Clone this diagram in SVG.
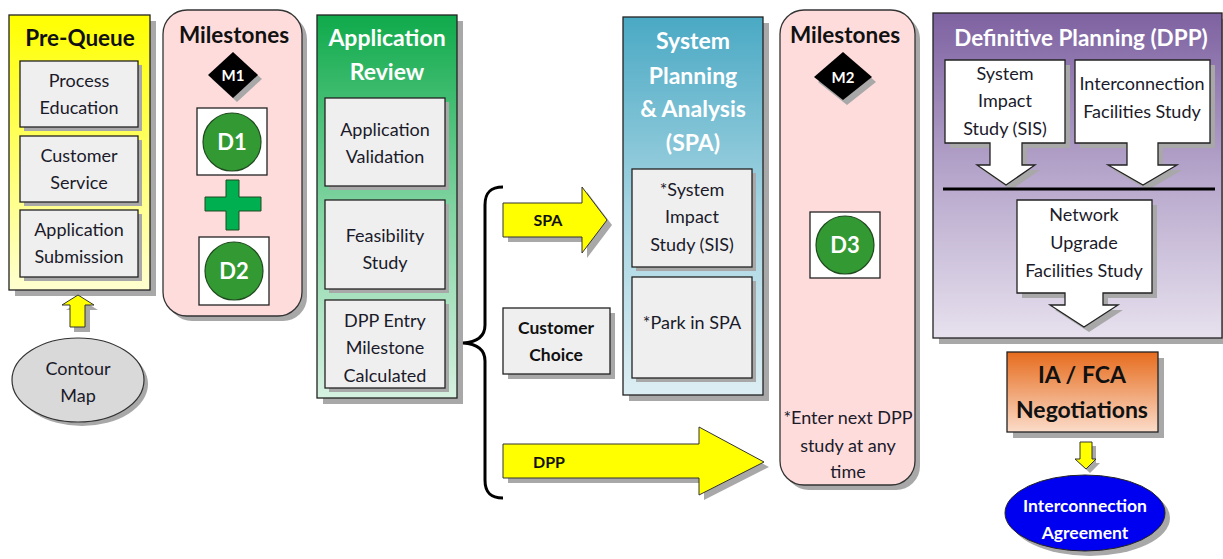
<svg xmlns="http://www.w3.org/2000/svg" width="1223" height="559" viewBox="0 0 1223 559">
  <defs>
    <linearGradient id="gYellow" x1="0" y1="0" x2="0" y2="1">
      <stop offset="0" stop-color="#FFFF00"/>
      <stop offset="1" stop-color="#FFFFD0"/>
    </linearGradient>
    <linearGradient id="gGreen" x1="0" y1="0" x2="0" y2="1">
      <stop offset="0" stop-color="#0FAA4B"/>
      <stop offset="0.5" stop-color="#7FD3A0"/>
      <stop offset="1" stop-color="#D6F1E0"/>
    </linearGradient>
    <linearGradient id="gBlue" x1="0" y1="0" x2="0" y2="1">
      <stop offset="0" stop-color="#4AA9C4"/>
      <stop offset="0.5" stop-color="#A3D3E1"/>
      <stop offset="1" stop-color="#DCEEF3"/>
    </linearGradient>
    <linearGradient id="gPurple" x1="0" y1="0" x2="0" y2="1">
      <stop offset="0" stop-color="#7E62A1"/>
      <stop offset="0.5" stop-color="#B6A6CB"/>
      <stop offset="1" stop-color="#E7E1EE"/>
    </linearGradient>
    <linearGradient id="gOrange" x1="0" y1="0" x2="0" y2="1">
      <stop offset="0" stop-color="#E66C1E"/>
      <stop offset="1" stop-color="#FBDCC9"/>
    </linearGradient>
    <style>
      .frame { stroke: #222; stroke-width: 1.3; }
      .shadow { fill: #A8A8A8; }
      .box { fill: #EFEFEF; stroke: #222; stroke-width: 1.3; }
      .wbox { fill: #FFFFFF; stroke: #222; stroke-width: 1.3; }
      .pink { fill: #FFDCDC; stroke: #333; stroke-width: 1.3; }
      .yarrow { fill: #FFFF00; stroke: #333; stroke-width: 1; }
      .disc { fill: #339933; stroke: #1E4A1E; stroke-width: 1.2; }
      .t { font-family: Lato, "Liberation Sans", sans-serif; font-size: 18px; fill: #1A1A2A; text-anchor: middle; }
      .tb { font-family: Lato, "Liberation Sans", sans-serif; font-weight: bold; fill: #111; text-anchor: middle; }
      .tw { font-family: Lato, "Liberation Sans", sans-serif; font-weight: bold; fill: #FFFFFF; text-anchor: middle; }
    </style>
  </defs>

  <!-- Pre-Queue column -->
  <g id="pre-queue">
    <rect class="shadow" x="15" y="21" width="141" height="275"/>
    <rect class="frame" x="9" y="15" width="141" height="275" fill="url(#gYellow)"/>
    <text class="tb" x="80" y="46" font-size="22.5">Pre-Queue</text>
    <rect class="shadow" x="24" y="65" width="118" height="66"/>
    <rect class="box" x="20" y="61" width="118" height="66"/>
    <text class="t" x="79" y="87">Process</text>
    <text class="t" x="79" y="114">Education</text>
    <rect class="shadow" x="24" y="140" width="118" height="66"/>
    <rect class="box" x="20" y="136" width="118" height="66"/>
    <text class="t" x="79" y="162">Customer</text>
    <text class="t" x="79" y="189">Service</text>
    <rect class="shadow" x="24" y="214" width="118" height="67"/>
    <rect class="box" x="20" y="210" width="118" height="67"/>
    <text class="t" x="79" y="236">Application</text>
    <text class="t" x="79" y="263">Submission</text>
  </g>

  <!-- Contour map feeding Pre-Queue -->
  <g id="contour-map">
    <ellipse class="shadow" cx="82" cy="384" rx="66" ry="42"/>
    <ellipse cx="78" cy="380" rx="66" ry="42" fill="#D9D9D9" stroke="#333" stroke-width="1.2"/>
    <text class="t" x="78" y="375">Contour</text>
    <text class="t" x="78" y="402">Map</text>
  </g>

  <!-- Milestones M1 / D1 / D2 -->
  <g id="milestones-1">
    <rect class="shadow" x="168" y="15" width="139" height="306" rx="24"/>
    <rect class="pink" x="163" y="10" width="139" height="306" rx="24"/>
    <text class="tb" x="234" y="43" font-size="22.5">Milestones</text>
    <polygon class="shadow" points="237,56 262,79 237,102 212,79"/>
    <polygon points="233,52 258,75 233,98 208,75" fill="#000"/>
    <text class="tw" x="233" y="80.5" font-size="15">M1</text>
    <rect class="wbox" x="197" y="108" width="70" height="67"/>
    <circle class="disc" cx="232" cy="142" r="29"/>
    <text class="tw" x="232" y="150" font-size="22">D1</text>
    <path d="M226,180 H239 V197 H261 V211 H239 V230 H226 V211 H205 V197 H226 Z" fill="#00B050" stroke="#1E4A1E" stroke-width="1"/>
    <rect class="wbox" x="199" y="237" width="70" height="68"/>
    <circle class="disc" cx="234" cy="271" r="29"/>
    <text class="tw" x="234" y="279" font-size="22">D2</text>
  </g>

  <!-- Application Review column -->
  <g id="application-review">
    <rect class="shadow" x="323" y="21" width="140" height="383"/>
    <rect class="frame" x="317" y="15" width="140" height="383" fill="url(#gGreen)"/>
    <text class="tw" x="387" y="46" font-size="23">Application</text>
    <text class="tw" x="387" y="80" font-size="23">Review</text>
    <rect class="shadow" x="329" y="102" width="120" height="88"/>
    <rect class="box" x="325" y="98" width="120" height="88"/>
    <text class="t" x="385" y="136">Application</text>
    <text class="t" x="385" y="163">Validation</text>
    <rect class="shadow" x="329" y="204" width="120" height="89"/>
    <rect class="box" x="325" y="200" width="120" height="89"/>
    <text class="t" x="385" y="242">Feasibility</text>
    <text class="t" x="385" y="269">Study</text>
    <rect class="shadow" x="329" y="304" width="120" height="88"/>
    <rect class="box" x="325" y="300" width="120" height="88"/>
    <text class="t" x="385" y="327">DPP Entry</text>
    <text class="t" x="385" y="354">Milestone</text>
    <text class="t" x="385" y="382">Calculated</text>
  </g>

  <!-- Customer choice -->
  <g id="customer-choice">
    <rect class="shadow" x="508" y="313" width="107" height="66"/>
    <rect class="box" x="503" y="308" width="107" height="66"/>
    <text class="tb" x="556" y="334" font-size="17.5">Customer</text>
    <text class="tb" x="556" y="361" font-size="17.5">Choice</text>
  </g>

  <!-- System Planning & Analysis column -->
  <g id="spa">
    <rect class="shadow" x="629" y="23" width="140" height="378"/>
    <rect class="frame" x="623" y="17" width="140" height="378" fill="url(#gBlue)"/>
    <text class="tw" x="693" y="49" font-size="23">System</text>
    <text class="tw" x="693" y="84" font-size="23">Planning</text>
    <text class="tw" x="693" y="117" font-size="23">&amp; Analysis</text>
    <text class="tw" x="693" y="151" font-size="23">(SPA)</text>
    <rect class="shadow" x="636" y="173" width="120" height="98"/>
    <rect class="box" x="632" y="169" width="120" height="98"/>
    <text class="t" x="692" y="196">*System</text>
    <text class="t" x="692" y="223">Impact</text>
    <text class="t" x="692" y="251">Study (SIS)</text>
    <rect class="shadow" x="636" y="281" width="120" height="101"/>
    <rect class="box" x="632" y="277" width="120" height="101"/>
    <text class="t" x="692" y="329">*Park in SPA</text>
  </g>

  <!-- Milestones M2 / D3 -->
  <g id="milestones-2">
    <rect class="shadow" x="785" y="15" width="135" height="475" rx="24"/>
    <rect class="pink" x="780" y="10" width="135" height="475" rx="24"/>
    <text class="tb" x="845" y="43" font-size="22.5">Milestones</text>
    <polygon class="shadow" points="847,57 876,82 847,105 818,82"/>
    <polygon points="843,52 872,77 843,100 814,77" fill="#000"/>
    <text class="tw" x="843" y="82.5" font-size="15">M2</text>
    <rect class="wbox" x="810" y="212" width="70" height="66"/>
    <circle class="disc" cx="845" cy="245" r="29"/>
    <text class="tw" x="845" y="253" font-size="22">D3</text>
    <text class="t" x="848" y="424">*Enter next DPP</text>
    <text class="t" x="848" y="452">study at any</text>
    <text class="t" x="848" y="478">time</text>
  </g>

  <!-- Definitive Planning column -->
  <g id="dpp">
    <rect class="shadow" x="939" y="19" width="284" height="325"/>
    <rect class="frame" x="933" y="13" width="289" height="325" fill="url(#gPurple)"/>
    <text class="tw" x="1081" y="46" font-size="22.5">Definitive Planning (DPP)</text>
    <g id="dpp-sis">
      <path class="shadow" d="M950,65 H1070 V148 H1027 V170 H1040 L1011,190 L982,170 H995 V148 H950 Z"/>
      <path class="wbox" d="M945,60 H1065 V143 H1022 V165 H1035 L1006,185 L977,165 H990 V143 H945 Z"/>
      <text class="t" x="1005" y="80">System</text>
      <text class="t" x="1005" y="107">Impact</text>
      <text class="t" x="1005" y="135">Study (SIS)</text>
    </g>
    <g id="dpp-ifs">
      <path class="shadow" d="M1080,65 H1215 V148 H1163 V170 H1182 L1148,190 L1113,170 H1132 V148 H1080 Z"/>
      <path class="wbox" d="M1075,60 H1210 V143 H1158 V165 H1177 L1143,185 L1108,165 H1127 V143 H1075 Z"/>
      <text class="t" x="1142" y="90">Interconnection</text>
      <text class="t" x="1142" y="118">Facilities Study</text>
    </g>
    <line x1="943" y1="189" x2="1215" y2="189" stroke="#000" stroke-width="3"/>
    <g id="dpp-nufs">
      <path class="shadow" d="M1022,205 H1157 V298 H1108 V310 H1123 L1089,332 L1055,310 H1070 V298 H1022 Z"/>
      <path class="wbox" d="M1017,200 H1152 V293 H1103 V305 H1118 L1084,327 L1050,305 H1065 V293 H1017 Z"/>
      <text class="t" x="1084" y="221">Network</text>
      <text class="t" x="1084" y="249">Upgrade</text>
      <text class="t" x="1084" y="277">Facilities Study</text>
    </g>
  </g>

  <!-- IA / FCA negotiations -->
  <g id="ia-fca">
    <rect class="shadow" x="1013" y="358" width="151" height="80"/>
    <rect class="frame" x="1007" y="352" width="151" height="80" fill="url(#gOrange)"/>
    <text class="tb" x="1082" y="383" font-size="23">IA / FCA</text>
    <text class="tb" x="1082" y="418" font-size="23">Negotiations</text>
  </g>

  <!-- Interconnection agreement -->
  <g id="interconnection-agreement">
    <ellipse class="shadow" cx="1090" cy="518" rx="80" ry="38"/>
    <ellipse cx="1085" cy="513" rx="80" ry="38" fill="#0000F0" stroke="#222" stroke-width="1"/>
    <text class="tw" x="1085" y="512" font-size="17.5">Interconnection</text>
    <text class="tw" x="1085" y="539" font-size="17.5">Agreement</text>
  </g>

  <!-- Connectors: block arrows and the decision brace -->
  <g id="connectors">
    <!-- contour map up to Pre-Queue -->
    <path class="shadow" d="M74,332 V310 H66 L82,300 L98,310 H90 V332 Z"/>
    <path class="yarrow" d="M70,327 V305 H62 L78,295 L94,305 H85 V327 Z"/>
    <!-- decision brace -->
    <path d="M503,187 C490,187 485,193 485,205 V325 C485,336 478,342 463,343 C478,344 485,350 485,361 V480 C485,492 490,498 503,498" fill="none" stroke="#000" stroke-width="3"/>
    <!-- SPA path -->
    <path class="shadow" d="M508,208 H587 V192 L612,225 L587,258 V242 H508 Z"/>
    <path class="yarrow" d="M503,203 H582 V187 L607,220 L582,253 V237 H503 Z"/>
    <text class="tb" x="548" y="226" font-size="16">SPA</text>
    <!-- DPP path -->
    <path class="shadow" d="M508,449 H704 V432 L769,467 L704,500 V483 H508 Z"/>
    <path class="yarrow" d="M503,444 H699 V427 L764,462 L699,495 V478 H503 Z"/>
    <text class="tb" x="549" y="468" font-size="16">DPP</text>
    <!-- IA/FCA down to agreement -->
    <path class="shadow" d="M1084,446 V463 H1079 L1090,473 L1100,463 H1096 V446 Z"/>
    <path class="yarrow" d="M1080,442 V459 H1075 L1086,469 L1096,459 H1092 V442 Z"/>
  </g>
</svg>
